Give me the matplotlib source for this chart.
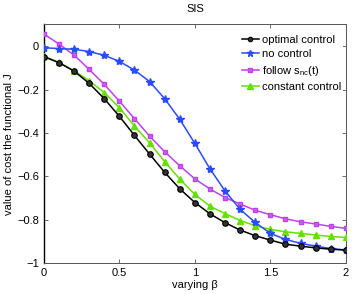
import numpy as np
import matplotlib
matplotlib.use("Agg")
import matplotlib.pyplot as plt

plt.rcParams['font.family'] = ['Liberation Sans', 'DejaVu Sans']

beta = [0.0, 0.1, 0.2, 0.3, 0.4, 0.5, 0.6, 0.7, 0.8, 0.9, 1.0,
        1.1, 1.2, 1.3, 1.4, 1.5, 1.6, 1.7, 1.8, 1.9, 2.0]
optimal = [-0.048, -0.076, -0.115, -0.171, -0.242, -0.323, -0.411, -0.497, -0.581, -0.657, -0.720,
           -0.772, -0.813, -0.847, -0.873, -0.893, -0.912, -0.921, -0.929, -0.935, -0.939]
no_control = [-0.007, -0.011, -0.014, -0.025, -0.042, -0.070, -0.110, -0.163, -0.242, -0.337, -0.448,
              -0.565, -0.667, -0.752, -0.812, -0.862, -0.890, -0.908, -0.921, -0.932, -0.939]
follow = [0.056, 0.010, -0.041, -0.107, -0.176, -0.253, -0.334, -0.414, -0.486, -0.551, -0.611,
          -0.658, -0.697, -0.727, -0.756, -0.776, -0.795, -0.809, -0.819, -0.830, -0.839]
constant = [-0.046, -0.075, -0.113, -0.159, -0.214, -0.283, -0.368, -0.445, -0.532, -0.612, -0.683,
            -0.737, -0.771, -0.803, -0.827, -0.844, -0.855, -0.862, -0.870, -0.876, -0.881]

xticks = [0, 0.5, 1, 1.5, 2]
xticklabels = ['0', '0.5', '1', '1.5', '2']
yticks = [-1, -0.8, -0.6, -0.4, -0.2, 0]
yticklabels = ['\u22121', '\u22120.8', '\u22120.6', '\u22120.4', '\u22120.2', '0']

fig = plt.figure(figsize=(3.54, 2.94), dpi=100)
ax = fig.add_axes([0.124, 0.1044, 0.853, 0.8123])

fs = 8
ax.plot(beta, optimal, color='black', marker='o', ms=4, mfc='#333333', mec='black', mew=0.8, lw=1.1,
        label='optimal control', zorder=5)
ax.plot(beta, no_control, color='#2a4cff', marker='*', ms=6, lw=1.1, label='no control', zorder=4)
ax.plot(beta, follow, color='#c040ee', marker='s', ms=3.5, mfc='#c864f0', mec='#c040ee', lw=1.1,
        label='follow s$_{\\mathregular{nc}}$(t)', zorder=3)
ax.plot(beta, constant, color='#66e000', marker='^', ms=5, lw=1.1, label='constant control', zorder=3)

ax.set_xlim(0, 2)
ax.set_ylim(-1, 0.1)
ax.set_xticks(xticks)
ax.set_xticklabels(xticklabels)
ax.set_yticks(yticks)
ax.set_yticklabels(yticklabels)
ax.tick_params(direction='in', top=True, right=True, labelsize=fs, length=3, width=0.6, color='#555555')
for s in ax.spines.values():
    s.set_linewidth(0.7)
    s.set_color('#555555')
ax.spines['left'].set_color('black')
ax.spines['left'].set_linewidth(1.0)

ax.set_title('SIS', fontsize=fs, pad=9)
ax.set_xlabel('varying \u03b2', fontsize=fs, labelpad=1)
ax.set_ylabel('value of cost the functional J', fontsize=fs, labelpad=2)

leg = ax.legend(loc='upper right', bbox_to_anchor=(0.998, 0.975), fontsize=fs, frameon=True,
                framealpha=1, edgecolor='white',
                handlelength=1.6, handletextpad=0.2, borderaxespad=0.2, labelspacing=0.4,
                borderpad=0.2, markerscale=0.8)
leg.get_frame().set_linewidth(0)

fig.savefig('out.png', dpi=100)
